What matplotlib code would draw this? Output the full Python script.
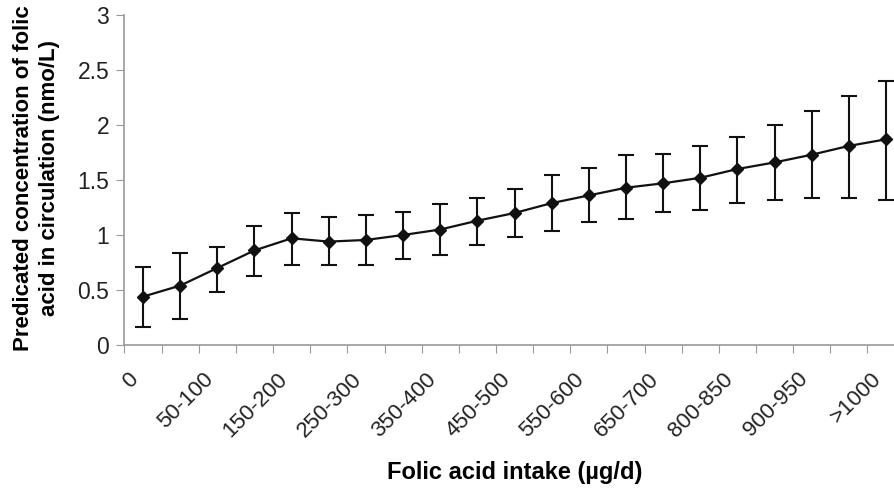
import matplotlib
matplotlib.use('Agg')
import matplotlib.pyplot as plt
import matplotlib.transforms as mtransforms
import numpy as np

# intake categories (ug/d), only every other one gets a label on the chart
categories = ['0', '1-50', '50-100', '100-150', '150-200', '200-250', '250-300',
              '300-350', '350-400', '400-450', '450-500', '500-550', '550-600',
              '600-650', '650-700', '700-800', '800-850', '850-900', '900-950',
              '950-1000', '>1000']
predicted = [0.44, 0.54, 0.70, 0.86, 0.97, 0.94, 0.955, 1.00, 1.05, 1.13, 1.20,
             1.29, 1.36, 1.43, 1.47, 1.52, 1.60, 1.66, 1.73, 1.81, 1.87]
lower = [0.16, 0.24, 0.48, 0.63, 0.73, 0.73, 0.73, 0.78, 0.82, 0.91, 0.98,
         1.04, 1.12, 1.15, 1.21, 1.23, 1.29, 1.32, 1.34, 1.34, 1.32]
upper = [0.71, 0.84, 0.89, 1.08, 1.20, 1.16, 1.18, 1.21, 1.28, 1.34, 1.42,
         1.55, 1.61, 1.73, 1.74, 1.81, 1.89, 2.00, 2.13, 2.26, 2.40]

plt.rcParams['font.family'] = ['Liberation Sans', 'DejaVu Sans']

fig = plt.figure(figsize=(8.94, 4.95), dpi=100)
ax = fig.add_axes([0.1392, 0.303, 0.8727, 0.6667])

x = np.arange(len(categories))
y = np.array(predicted)
yerr = [y - np.array(lower), np.array(upper) - y]

ax.errorbar(x, y, yerr=yerr, color='#111111', lw=1.6, elinewidth=1.5,
            capsize=6, capthick=1.5, marker='D', markersize=6.5,
            markerfacecolor='#111111', markeredgecolor='#111111')

ax.set_xlim(-0.5, len(categories) - 0.5)
ax.set_ylim(0, 3)
ax.set_yticks(np.arange(0, 3.01, 0.5))
ax.set_yticklabels(['0', '0.5', '1', '1.5', '2', '2.5', '3'])

# tick marks sit between categories, labels on every second category
ax.set_xticks(np.arange(-0.5, len(categories), 1.0))
ax.set_xticklabels([])
ax.set_xticks(x[::2], minor=True)
ax.set_xticklabels(categories[::2], minor=True, rotation=45, ha='right',
                   va='top', rotation_mode='anchor')
ax.tick_params(axis='x', which='minor', length=0, pad=17, labelsize=16)
ax.tick_params(axis='x', which='major', length=6, color='#999999', direction='out')
ax.tick_params(axis='y', length=6, color='#999999', labelsize=16.5, pad=5)
shift = mtransforms.ScaledTranslation(-0.15, 0, fig.dpi_scale_trans)
for lbl in ax.get_xticklabels(minor=True):
    lbl.set_transform(lbl.get_transform() + shift)
for lbl in ax.get_xticklabels(minor=True) + ax.get_yticklabels():
    lbl.set_color('#222222')

for side in ['top', 'right']:
    ax.spines[side].set_visible(False)
for side in ['left', 'bottom']:
    ax.spines[side].set_color('#999999')
    ax.spines[side].set_linewidth(1.2)

ax.set_xlabel('Folic acid intake (µg/d)', fontsize=17, fontweight='bold', labelpad=14)
fig.text(0.041, 0.64, 'Predicated concentration of folic\nacid in circulation (nmo/L)',
         rotation=90, ha='center', va='center', fontsize=16, fontweight='bold',
         linespacing=1.3)

fig.savefig('out.png', dpi=100)
